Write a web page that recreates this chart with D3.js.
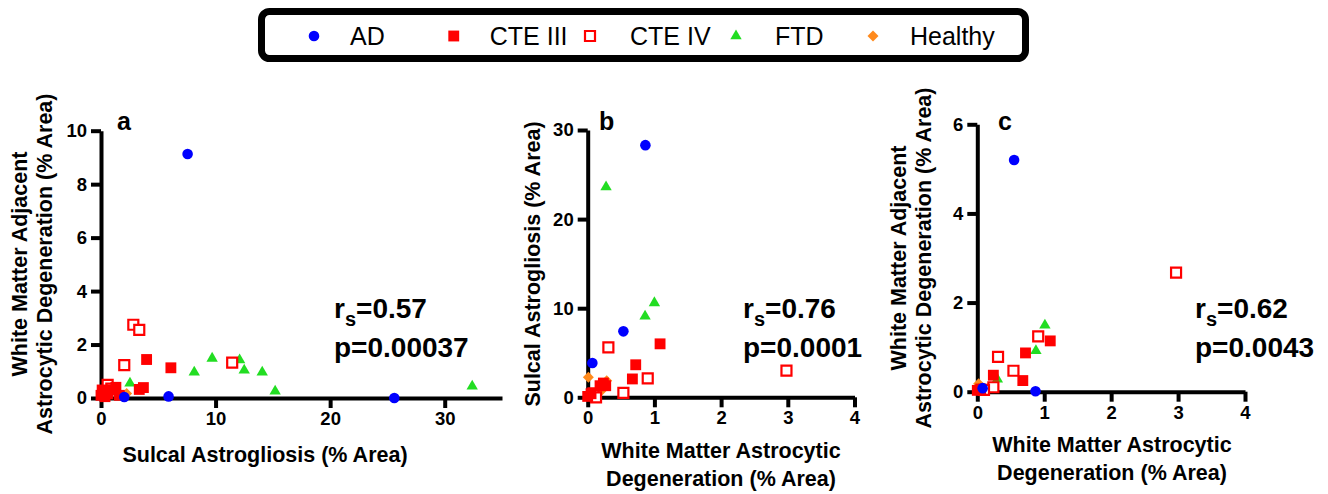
<!DOCTYPE html>
<html>
<head>
<meta charset="utf-8">
<script src="https://cdn.jsdelivr.net/npm/d3@7"></script>
<style>
  body { margin: 0; background: #fff; }
  svg text { font-family: "Liberation Sans", Arial, sans-serif; }
  .axis path, .axis line { stroke: #000; stroke-width: 4px; }
</style>
</head>
<body>
<div id="chart"></div>
<script>
const GROUPS = ['AD', 'CTE III', 'CTE IV', 'FTD', 'Healthy']

// panel a: x = sulcal astrogliosis, y = WM adjacent degeneration
const aAD = [[7.56, 9.13], [2.03, 0.04], [5.9, 0.06], [25.6, 0]]
const aCTE3 = [[3.98, 1.44], [6.1, 1.13], [3.7, 0.39], [3.34, 0.32], [1.3, 0.4], [0.93, 0.3], [0.2, 0.24], [0, 0.1], [0.35, 0.05], [0.1, 0.3], [0.6, 0.15], [1.6, 0.1]]
const aCTE4 = [[2.82, 2.74], [3.34, 2.55], [2.03, 1.23], [11.45, 1.32], [0.58, 0.49], [0.9, 0.35]]
const aFTD = [[2.53, 0.55], [8.14, 0.96], [9.7, 1.48], [12.1, 1.42], [12.5, 1.04], [14.07, 0.96], [15.2, 0.25], [32.4, 0.44]]
const aHealthy = [[2.24, 0.17], [0.4, 0.1]]

// panel b: x = WM astrocytic degeneration, y = sulcal astrogliosis
const bAD = [[0.865, 28.3], [0.535, 7.4], [0.07, 3.85]]
const bCTE3 = [[1.085, 6.0], [0.72, 3.65], [0.67, 2.06], [0.235, 1.6], [0.185, 1.3], [0, 0.1], [0.05, 0.4], [0.27, 1.3]]
const bCTE4 = [[0.31, 5.6], [0.9, 2.13], [0.535, 0.5], [2.98, 3.0], [0.085, 0.45], [0.125, 0]]
const bFTD = [[0.275, 23.6], [1.0, 10.6], [0.86, 9.1]]
const bHealthy = [[0.01, 2.25], [0.285, 1.85], [0.2, 0.7]]

// panel c: x = WM astrocytic degeneration, y = WM adjacent degeneration
const cAD = [[0.55, 5.2], [0.87, 0.01], [0.08, 0.08]]
const cCTE3 = [[1.09, 1.14], [0.72, 0.87], [0.68, 0.25], [0.24, 0.37], [0, 0.03], [0.05, 0.06]]
const cCTE4 = [[2.97, 2.67], [0.91, 1.24], [0.31, 0.78], [0.54, 0.47], [0.24, 0.1], [0.1, 0.04]]
const cFTD = [[1.01, 1.49], [0.876, 0.92], [0.3, 0.28]]
const cHealthy = [[0.02, 0.18], [0.04, 0.06]]

const xTicksA = [0, 10, 20, 30]
const yTicksA = [0, 2, 4, 6, 8, 10]
const xTicksBC = [0, 1, 2, 3, 4]
const yTicksB = [0, 10, 20, 30]
const yTicksC = [0, 2, 4, 6]

// square turned 45 degrees (d3's own diamond is too narrow)
const symbolRhomb = {
  draw(ctx, size) {
    const h = Math.sqrt(size / 2)
    ctx.moveTo(0, -h); ctx.lineTo(h, 0); ctx.lineTo(0, h); ctx.lineTo(-h, 0); ctx.closePath()
  }
}

const STYLE = {
  'AD': { shape: d3.symbolCircle, size: 88, fill: '#0000ff', stroke: 'none' },
  'CTE III': { shape: d3.symbolSquare, size: 118, fill: '#ff0000', stroke: 'none' },
  'CTE IV': { shape: d3.symbolSquare, size: 100, fill: '#fff', stroke: '#ff0000' },
  'FTD': { shape: d3.symbolTriangle, size: 56, fill: '#22dd22', stroke: 'none' },
  'Healthy': { shape: symbolRhomb, size: 60, fill: '#ff8a1c', stroke: 'none' },
}
const DRAW_ORDER = ['Healthy', 'FTD', 'CTE IV', 'CTE III', 'AD']

const svg = d3.select('#chart').append('svg').attr('width', 1328).attr('height', 494)

function marker(g, group, x, y) {
  const s = STYLE[group]
  g.append('path')
    .attr('d', d3.symbol().type(s.shape).size(s.size)())
    .attr('transform', `translate(${x},${y})`)
    .attr('fill', s.fill)
    .attr('stroke', s.stroke)
    .attr('stroke-width', 2.2)
}

function panel(p) {
  const x = d3.scaleLinear().domain(p.xDomain).range(p.xRange)
  const y = d3.scaleLinear().domain(p.yDomain).range(p.yRange)
  const g = svg.append('g')

  const xAxis = g.append('g').attr('class', 'axis').attr('transform', `translate(0,${p.yRange[0]})`)
    .call(d3.axisBottom(x).tickValues(p.xTicks).tickFormat(d3.format('d')).tickSize(10).tickPadding(4).tickSizeOuter(0))
  const yAxis = g.append('g').attr('class', 'axis').attr('transform', `translate(${p.xRange[0]},0)`)
    .call(d3.axisLeft(y).tickValues(p.yTicks).tickFormat(d3.format('d')).tickSize(10).tickPadding(4).tickSizeOuter(0))
  for (const ax of [xAxis, yAxis]) {
    ax.selectAll('.tick text').attr('fill', '#000').attr('font-size', 18.5).attr('font-weight', 'bold')
  }

  // points
  DRAW_ORDER.forEach(grp => {
    p.data[grp].forEach(d => marker(g, grp, x(d[0]), y(d[1])))
  })

  // panel letter
  g.append('text').attr('x', p.letter[0]).attr('y', p.letter[1])
    .attr('font-size', 25).attr('font-weight', 'bold').text(p.letterText)

  // stats
  const st = g.append('text').attr('x', p.stats[0]).attr('y', p.stats[1])
    .attr('font-size', 28).attr('font-weight', 'bold')
  st.append('tspan').text('r')
  st.append('tspan').attr('font-size', 20).attr('dy', 8).text('s')
  st.append('tspan').attr('dy', -8).text('=' + p.r)
  g.append('text').attr('x', p.stats[0]).attr('y', p.stats[1] + 39)
    .attr('font-size', 28).attr('font-weight', 'bold').text('p=' + p.p)

  // axis titles
  const xt = g.append('text').attr('text-anchor', 'middle').attr('font-size', 21.5).attr('font-weight', 'bold')
  p.xTitle.forEach((t, i) => xt.append('tspan').attr('x', p.xTitlePos[0]).attr('y', p.xTitlePos[1] + i * 28).text(t))
  const yt = g.append('text').attr('text-anchor', 'middle').attr('font-size', 21.5).attr('font-weight', 'bold')
    .attr('transform', `translate(${p.yTitlePos[0]},${p.yTitlePos[1]}) rotate(-90)`)
  p.yTitle.forEach((t, i) => yt.append('tspan').attr('x', 0).attr('y', i * 25).text(t))
}

panel({
  xDomain: [0, 35], xRange: [101, 502], yDomain: [0, 10], yRange: [398, 130.7],
  xTicks: xTicksA, yTicks: yTicksA,
  data: { 'AD': aAD, 'CTE III': aCTE3, 'CTE IV': aCTE4, 'FTD': aFTD, 'Healthy': aHealthy },
  letter: [117, 130], letterText: 'a', stats: [334, 318], r: '0.57', p: '0.00037',
  xTitle: ['Sulcal Astrogliosis (% Area)'], xTitlePos: [265, 462],
  yTitle: ['White Matter Adjacent', 'Astrocytic Degeneration (% Area)'], yTitlePos: [27, 264],
})

panel({
  xDomain: [0, 4], xRange: [587.7, 854.5], yDomain: [0, 30], yRange: [397.3, 130],
  xTicks: xTicksBC, yTicks: yTicksB,
  data: { 'AD': bAD, 'CTE III': bCTE3, 'CTE IV': bCTE4, 'FTD': bFTD, 'Healthy': bHealthy },
  letter: [599, 130], letterText: 'b', stats: [743, 318], r: '0.76', p: '0.0001',
  xTitle: ['White Matter Astrocytic', 'Degeneration (% Area)'], xTitlePos: [721, 458],
  yTitle: ['Sulcal Astrogliosis (% Area)'], yTitlePos: [540, 264],
})

panel({
  xDomain: [0, 4], xRange: [977.3, 1245], yDomain: [0, 6], yRange: [391.7, 124.3],
  xTicks: xTicksBC, yTicks: yTicksC,
  data: { 'AD': cAD, 'CTE III': cCTE3, 'CTE IV': cCTE4, 'FTD': cFTD, 'Healthy': cHealthy },
  letter: [998, 130], letterText: 'c', stats: [1195, 318], r: '0.62', p: '0.0043',
  xTitle: ['White Matter Astrocytic', 'Degeneration (% Area)'], xTitlePos: [1112, 452],
  yTitle: ['White Matter Adjacent', 'Astrocytic Degeneration (% Area)'], yTitlePos: [906, 258],
})

// legend
const legend = svg.append('g')
legend.append('rect').attr('x', 261.5).attr('y', 11.5).attr('width', 764).attr('height', 47)
  .attr('rx', 8).attr('fill', '#fff').attr('stroke', '#000').attr('stroke-width', 7)
const legendSym = d3.scalePoint().domain(GROUPS).range([314, 873])
const legendGap = [36, 36, 40, 39, 37]
GROUPS.forEach((grp, i) => {
  const cx = i === 2 ? 590 : i === 3 ? 736 : legendSym(grp)
  marker(legend, grp, cx, 36)
  legend.append('text').attr('x', cx + legendGap[i]).attr('y', 45)
    .attr('font-size', 25).attr('fill', '#000').text(grp)
})
</script>
</body>
</html>
